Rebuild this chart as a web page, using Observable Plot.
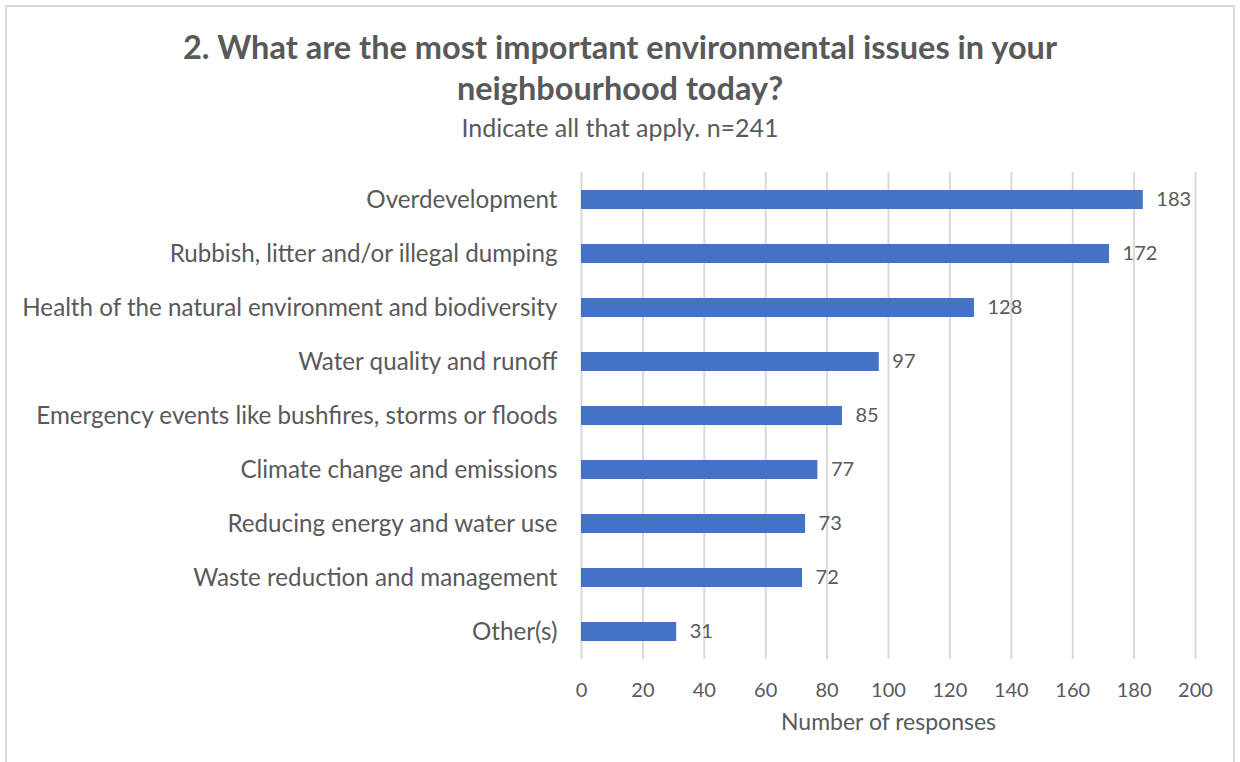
<!DOCTYPE html>
<html>
<head>
<meta charset="utf-8">
<script src="https://cdn.jsdelivr.net/npm/d3@7"></script>
<script src="https://cdn.jsdelivr.net/npm/@observablehq/plot@0.6"></script>
<style>
  html, body { margin: 0; padding: 0; background: #fff; overflow: hidden; }
  body { width: 1240px; height: 762px; position: relative; font-family: Lato, "Open Sans", sans-serif; color: #595959; }
  #frame { position: absolute; left: 5px; top: 5px; width: 1230px; height: 757px; border: 2px solid #d9d9d9; border-bottom: none; box-sizing: border-box; }
  #title { position: absolute; left: 0; width: 1240px; top: 26px; text-align: center; font-weight: bold; font-size: 32.5px; line-height: 41px; }
  #subtitle { position: absolute; left: 0; width: 1240px; top: 112px; text-align: center; font-size: 25px; line-height: 30px; }
  #chart { position: absolute; left: 0; top: 150px; }
</style>
</head>
<body>
<div id="frame"></div>
<div id="title">2. What are the most important environmental issues in your<br>neighbourhood today?</div>
<div id="subtitle">Indicate all that apply. n=241</div>
<div id="chart"></div>
<script>
const categories = [
  "Overdevelopment",
  "Rubbish, litter and/or illegal dumping",
  "Health of the natural environment and biodiversity",
  "Water quality and runoff",
  "Emergency events like bushfires, storms or floods",
  "Climate change and emissions",
  "Reducing energy and water use",
  "Waste reduction and management",
  "Other(s)"
];
const responses = [183, 172, 128, 97, 85, 77, 73, 72, 31];
const xTicks = [0, 20, 40, 60, 80, 100, 120, 140, 160, 180, 200];
const xLabel = "Number of responses";

const data = categories.map((c, i) => ({category: c, value: responses[i]}));

const chart = Plot.plot({
  width: 1240,
  height: 612,
  marginLeft: 581,
  marginRight: 45,
  marginTop: 22,
  marginBottom: 103,
  style: {fontFamily: "Lato, 'Open Sans', sans-serif", fontSize: "20px", color: "#595959", background: "transparent"},
  x: {domain: [0, 200], label: null},
  y: {domain: categories, label: null, paddingInner: 0.64, paddingOuter: 0.32},
  marks: [
    Plot.gridX(xTicks, {stroke: "#d9d9d9", strokeWidth: 2, strokeOpacity: 1}),
    Plot.axisX(xTicks, {tickSize: 0, tickPadding: 23, fontSize: 20, fill: "#595959", label: null}),
    Plot.axisY({tickSize: 0, tickPadding: 24, fontSize: 24.2, fill: "#595959", label: null}),
    Plot.barX(data, {x: "value", y: "category", fill: "#4472C4"}),
    Plot.text(data, {x: "value", y: "category", text: d => String(d.value), textAnchor: "start", dx: 13, fill: "#595959", fontSize: 20}),
    Plot.text([xLabel], {frameAnchor: "bottom", dy: 70, text: d => d, fill: "#595959", fontSize: 23})
  ]
});
document.getElementById("chart").appendChild(chart);
</script>
</body>
</html>
